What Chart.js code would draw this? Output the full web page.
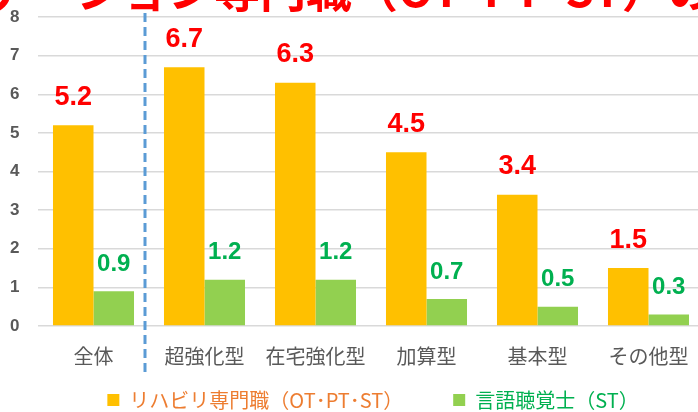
<!DOCTYPE html>
<html>
<head>
<meta charset="utf-8">
<script src="https://cdn.jsdelivr.net/npm/chart.js@4/dist/chart.umd.min.js"></script>
<style>
  html, body { margin: 0; padding: 0; background: #fff; overflow: hidden; }
  #wrap { position: relative; width: 736px; height: 420px; }
</style>
</head>
<body>
<div id="wrap"><canvas id="chart"></canvas></div>
<script>
var categories = ['全体', '超強化型', '在宅強化型', '加算型', '基本型', 'その他型'];
var rehabValues = [5.2, 6.7, 6.3, 4.5, 3.4, 1.5];
var stValues = [0.9, 1.2, 1.2, 0.7, 0.5, 0.3];
var yTicks = [0, 1, 2, 3, 4, 5, 6, 7, 8];
var seriesNames = ['リハビリ専門職（OT･PT･ST）', '言語聴覚士（ST）'];

// title at the top is cut off in the original, only the lower part shows
var titlePlugin = {
    id: 'cutTitle',
    afterDraw: function (chart) {
        var ctx = chart.ctx;
        ctx.save();
        ctx.fillStyle = '#FF0000';
        ctx.font = 'bold 46px "Noto Sans CJK JP"';
        ctx.textBaseline = 'alphabetic';
        ctx.textAlign = 'right';
        ctx.fillText('リハビリテーション専門職', 352, 7);
        ctx.textAlign = 'left';
        ctx.fillText('（OT･PT･ST）の配置', 352, 7);
        ctx.restore();
    }
};

// dashed line between 全体 and the facility types
var dividerPlugin = {
    id: 'divider',
    afterDatasetsDraw: function (chart) {
        var ctx = chart.ctx;
        var xs = chart.scales.x;
        var x = (xs.getPixelForValue(0) + xs.getPixelForValue(1)) / 2 - 4;
        ctx.save();
        ctx.strokeStyle = '#5B9BD5';
        ctx.lineWidth = 3;
        ctx.setLineDash([9, 5]);
        ctx.beginPath();
        ctx.moveTo(x, 13);
        ctx.lineTo(x, 374);
        ctx.stroke();
        ctx.restore();
    }
};

// value labels above the bars
var valuePlugin = {
    id: 'values',
    afterDatasetsDraw: function (chart) {
        var ctx = chart.ctx;
        ctx.save();
        ctx.textAlign = 'center';
        ctx.textBaseline = 'middle';
        chart.data.datasets.forEach(function (ds, i) {
            var meta = chart.getDatasetMeta(i);
            ctx.fillStyle = i === 0 ? '#FF0000' : '#00B050';
            ctx.font = i === 0 ? 'bold 27px "Liberation Sans"' : 'bold 24px "Liberation Sans"';
            meta.data.forEach(function (bar, j) {
                ctx.fillText(ds.data[j].toFixed(1), bar.x, bar.y - (i === 0 ? 28 : 27));
            });
        });
        ctx.restore();
    }
};

new Chart('chart', {
    type: 'bar',
    data: {
        labels: categories,
        datasets: [
            {
                label: seriesNames[0],
                data: rehabValues,
                backgroundColor: '#FFC000',
                categoryPercentage: 0.73,
                barPercentage: 1
            },
            {
                label: seriesNames[1],
                data: stValues,
                backgroundColor: '#92D050',
                categoryPercentage: 0.73,
                barPercentage: 1
            }
        ]
    },
    options: {
        responsive: true,
        maintainAspectRatio: false,
        animation: false,
        layout: {
            padding: { top: 17, left: 10, right: 0, bottom: 0 }
        },
        scales: {
            x: {
                grid: { display: false, drawTicks: false },
                border: { display: false },
                ticks: {
                    color: '#595959',
                    font: { family: '"Noto Sans CJK JP"', size: 20 },
                    padding: 18,
                    maxRotation: 0
                },
                afterFit: function (scale) { scale.height = 44; }
            },
            y: {
                min: 0,
                max: 8,
                afterBuildTicks: function (scale) {
                    scale.ticks = yTicks.map(function (v) { return { value: v }; });
                },
                grid: { color: '#D9D9D9', lineWidth: 1.5, drawTicks: false },
                border: { display: false },
                ticks: {
                    color: '#595959',
                    font: { family: '"Liberation Sans"', size: 17, weight: 'bold' },
                    padding: 0,
                    crossAlign: 'far'
                },
                afterFit: function (scale) { scale.width = 28; }
            },
            spacer: {
                position: 'right',
                display: true,
                grid: { display: false },
                border: { display: false },
                ticks: { display: false },
                afterFit: function (scale) { scale.width = 32; }
            }
        },
        plugins: {
            legend: {
                position: 'bottom',
                labels: {
                    boxWidth: 12,
                    boxHeight: 12,
                    padding: 20,
                    font: { family: '"Noto Sans CJK JP"', size: 20 },
                    generateLabels: function (chart) {
                        return chart.data.datasets.map(function (ds, i) {
                            return {
                                text: i === 0 ? ds.label + '　　' : ds.label,
                                fillStyle: ds.backgroundColor,
                                strokeStyle: ds.backgroundColor,
                                lineWidth: 0,
                                fontColor: i === 0 ? '#ED7D31' : '#00B050',
                                datasetIndex: i
                            };
                        });
                    }
                }
            },
            tooltip: { enabled: false }
        }
    },
    plugins: [titlePlugin, dividerPlugin, valuePlugin]
});
</script>
</body>
</html>
